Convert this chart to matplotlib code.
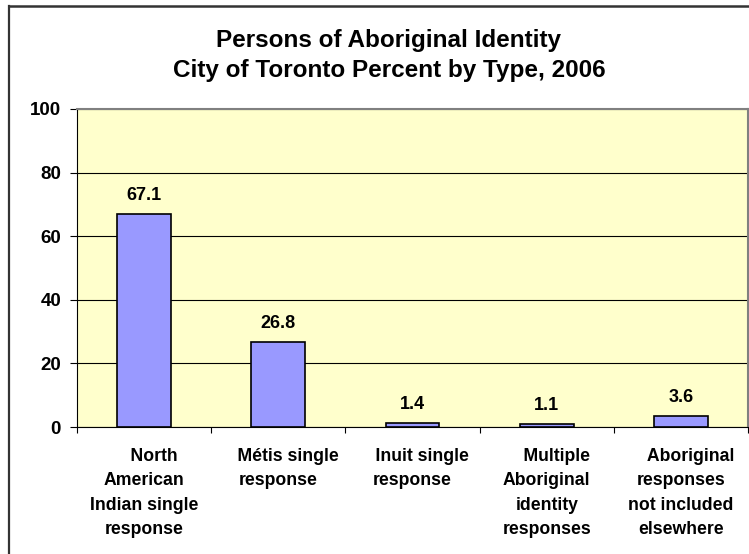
import matplotlib
matplotlib.use("Agg")
import matplotlib.pyplot as plt
from matplotlib.lines import Line2D

categories = [
    "North\nAmerican\nIndian single\nresponse",
    "Métis single\nresponse",
    "Inuit single\nresponse",
    "Multiple\nAboriginal\nidentity\nresponses",
    "Aboriginal\nresponses\nnot included\nelsewhere",
]
values = [67.1, 26.8, 1.4, 1.1, 3.6]
value_labels = ["67.1", "26.8", "1.4", "1.1", "3.6"]
y_ticks = [0, 20, 40, 60, 80, 100]
title_lines = ["Persons of Aboriginal Identity", "City of Toronto Percent by Type, 2006"]

plt.rcParams['font.family'] = ['Liberation Sans', 'DejaVu Sans']
plt.rcParams['font.weight'] = 'bold'

W, H = 749, 554
fig = plt.figure(figsize=(W / 100, H / 100), dpi=100)
fig.patch.set_facecolor('white')

# outer chart border (left and top edges visible)
fig.add_artist(Line2D([9 / W, 9 / W], [1 - 6 / H, 0], color='#333333', lw=1.6, transform=fig.transFigure))
fig.add_artist(Line2D([9 / W, 1], [1 - 6 / H, 1 - 6 / H], color='#333333', lw=1.8, transform=fig.transFigure))

left, right, top, bottom = 77, 748, 109, 427
ax = fig.add_axes([left / W, 1 - bottom / H, (right - left) / W, (bottom - top) / H])
ax.set_facecolor('#FFFFCC')

x = list(range(len(values)))
bars = ax.bar(x, values, width=0.4, color='#9999FF', edgecolor='black', linewidth=1.2, zorder=3)

for xi, v, lab in zip(x, values, value_labels):
    ax.annotate(lab, (xi, v), xytext=(0, 10), textcoords='offset points',
                ha='center', va='baseline', fontsize=13, fontweight='bold', zorder=4)

ax.set_xlim(-0.5, len(values) - 0.5)
ax.set_ylim(0, 100)
ax.set_yticks(y_ticks)
ax.set_yticklabels([str(t) for t in y_ticks], fontsize=13.5, fontweight='bold')
ax.tick_params(axis='y', direction='out', length=5, width=0.8, pad=6.5, color='black')

ax.set_xticks(x)
ax.set_xticklabels(['    ' + c for c in categories], fontsize=12.7, fontweight='bold',
                   linespacing=1.57, va='top')
ax.tick_params(axis='x', which='major', length=0, pad=15)
ax.set_xticks([i - 0.5 for i in range(len(values) + 1)], minor=True)
ax.tick_params(axis='x', which='minor', direction='out', length=4.3, width=0.8, color='black')

ax.yaxis.grid(True, color='black', linewidth=0.8)
ax.set_axisbelow(True)

for s in ['top', 'right']:
    ax.spines[s].set_color('#808080')
    ax.spines[s].set_linewidth(1.5)
ax.spines['left'].set_color('black')
ax.spines['left'].set_linewidth(0.8)
ax.spines['bottom'].set_color('black')
ax.spines['bottom'].set_linewidth(0.8)

fig.text(389 / W, 1 - 47 / H, title_lines[0], ha='center', va='baseline', fontsize=17.5, fontweight='bold')
fig.text(389 / W, 1 - 77 / H, title_lines[1], ha='center', va='baseline', fontsize=17.5, fontweight='bold')

fig.savefig('out.png', dpi=100)
